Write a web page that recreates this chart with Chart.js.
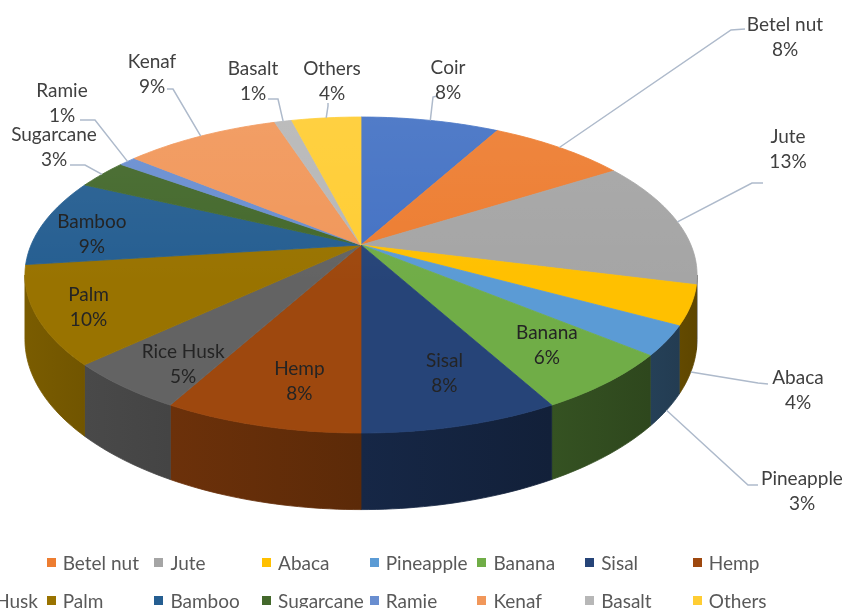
<!DOCTYPE html>
<html>
<head>
<meta charset="utf-8">
<title>Natural fibre share</title>
<script src="https://cdn.jsdelivr.net/npm/chart.js@4.4.1/dist/chart.umd.min.js"></script>
<style>
  html, body { margin: 0; padding: 0; background: #fff; overflow: hidden; }
  #wrap { position: relative; width: 845px; height: 608px; overflow: hidden; }
  #fibreChart { position: absolute; left: 0; top: 0; }
  #legend { position: absolute; left: -61px; top: 543px; font-family: Lato, "Open Sans", sans-serif; font-size: 19px; color: #595959; }
  #legend .row { display: flex; height: 38px; align-items: center; white-space: nowrap; }
  #legend .item { width: 107.7px; flex: none; display: flex; align-items: center; }
  #legend .box { width: 9px; height: 9px; margin-right: 7px; flex: none; }
</style>
</head>
<body>
<div id="wrap">
  <canvas id="fibreChart" width="845" height="608"></canvas>
  <div id="legend"></div>
</div>
<script>
(() => {
    // fibre types, clockwise from 12 o'clock
    const fibres = ['Coir', 'Betel nut', 'Jute', 'Abaca', 'Pineapple', 'Banana', 'Sisal', 'Hemp',
                    'Rice Husk', 'Palm', 'Bamboo', 'Sugarcane', 'Ramie', 'Kenaf', 'Basalt', 'Others'];
    // share in percent
    const shares = [8, 8, 13, 4, 3, 6, 8, 8, 5, 10, 9, 3, 1, 9, 1, 4];

    const sliceColors = ['#4472C4', '#ED7D31', '#A5A5A5', '#FFC000', '#5B9BD5', '#70AD47', '#264478', '#9E480E',
                         '#636363', '#997300', '#255E91', '#43682B', '#698ED0', '#F1975A', '#B7B7B7', '#FFCD33'];

    // 3D look: squash of the disc, perspective strength, wall height (all relative to the chart radius)
    const SQUASH_X = 1.404;
    const SQUASH_Y = 0.648;
    const PERSP = 0.19;
    const WALL = 0.264;

    // where each data label goes: r = inside the slice, at = text centre outside with a leader line
    const labelLayout = [
        { at: [448, 80], lead: [[437, 96], [433, 97]] },               // Coir
        { at: [785, 37], lead: [[745, 29], [731, 30]] },               // Betel nut
        { at: [788, 149], lead: [[763, 183], [752, 183]] },            // Jute
        { at: [798, 390], lead: [[768, 384], [758, 383]], wall: true },// Abaca
        { at: [802, 491], lead: [[758, 485], [748, 485]], wall: true },// Pineapple
        { r: 0.76, nudge: [6, 0] },                                    // Banana
        { r: 0.75, nudge: [12, 0] },                                   // Sisal
        { r: 0.77, nudge: [12, 4] },                                   // Hemp
        { r: 0.8, nudge: [6, 10] },                                    // Rice Husk
        { r: 0.85, nudge: [0, 3] },                                    // Palm
        { r: 0.85, nudge: [1, 9] },                                    // Bamboo
        { at: [54, 147], lead: [[70, 165], [85, 165]] },               // Sugarcane
        { at: [62, 103], lead: [[80, 120], [95, 120]] },               // Ramie
        { at: [152, 74], lead: [[167, 89], [173, 89]] },               // Kenaf
        { at: [253, 81], lead: [[268, 99], [278, 99]] },               // Basalt
        { at: [332, 81], lead: [[328, 103], [328, 106]] }              // Others
    ];

    function project(arc, a, r, drop) {
        const u = Math.cos(a) * r;
        const w = Math.sin(a) * r;
        const s = 1 / (1 - PERSP * w);
        const R = arc.outerRadius;
        return {
            x: arc.x + R * SQUASH_X * u * s,
            y: arc.y + R * SQUASH_Y * w * s + (drop ? R * WALL * s : 0)
        };
    }

    function rim(arc, from, to, drop) {
        const steps = Math.max(2, Math.ceil((to - from) / 0.02));
        const pts = [];
        for (let k = 0; k <= steps; k++) {
            pts.push(project(arc, from + (to - from) * k / steps, 1, drop));
        }
        return pts;
    }

    function shade(hex, f) {
        const n = parseInt(hex.slice(1), 16);
        const c = [(n >> 16) & 255, (n >> 8) & 255, n & 255].map(v => Math.round(v * f));
        return `rgb(${c[0]},${c[1]},${c[2]})`;
    }

    // walls lit from the left
    const wallLight = a => 0.58 - 0.22 * Math.cos(a);

    function tracePath(ctx, pts) {
        ctx.beginPath();
        pts.forEach((p, k) => k ? ctx.lineTo(p.x, p.y) : ctx.moveTo(p.x, p.y));
        ctx.closePath();
    }

    const pie3d = {
        id: 'pie3d',
        beforeDatasetsDraw(chart) {
            const ctx = chart.ctx;
            const arcs = chart.getDatasetMeta(0).data;
            const colors = chart.data.datasets[0].backgroundColor;
            const aMin = Math.asin(PERSP);
            const aMax = Math.PI - aMin;
            ctx.save();
            ctx.lineJoin = 'round';

            // front walls
            arcs.forEach((arc, i) => {
                const lo = Math.max(arc.startAngle, aMin);
                const hi = Math.min(arc.endAngle, aMax);
                if (lo >= hi) return;
                const top = rim(arc, lo, hi, false);
                const bottom = rim(arc, lo, hi, true).reverse();
                const x0 = top[0].x, x1 = top[top.length - 1].x;
                let paint = shade(colors[i], wallLight((lo + hi) / 2));
                if (Math.abs(x1 - x0) > 1) {
                    paint = ctx.createLinearGradient(x0, 0, x1, 0);
                    paint.addColorStop(0, shade(colors[i], wallLight(lo)));
                    paint.addColorStop(1, shade(colors[i], wallLight(hi)));
                }
                tracePath(ctx, top.concat(bottom));
                ctx.fillStyle = paint;
                ctx.strokeStyle = paint;
                ctx.lineWidth = 0.8;
                ctx.fill();
                ctx.stroke();
            });

            // top faces
            arcs.forEach((arc, i) => {
                const pts = [{ x: arc.x, y: arc.y }].concat(rim(arc, arc.startAngle, arc.endAngle, false));
                tracePath(ctx, pts);
                ctx.fillStyle = colors[i];
                ctx.strokeStyle = colors[i];
                ctx.lineWidth = 0.8;
                ctx.fill();
                ctx.stroke();
            });

            // soft light on the far part of the top
            if (arcs.length) {
                const arc = arcs[0];
                const full = [{ x: arc.x, y: arc.y }].concat(rim(arc, -Math.PI / 2, Math.PI * 1.5, false));
                const topY = project(arc, -Math.PI / 2, 1, false).y;
                const glow = ctx.createLinearGradient(0, topY, 0, arc.y + 40);
                glow.addColorStop(0, 'rgba(255,255,255,0.07)');
                glow.addColorStop(1, 'rgba(255,255,255,0)');
                tracePath(ctx, full);
                ctx.fillStyle = glow;
                ctx.fill();
            }
            ctx.restore();
            return false;
        },
        afterDraw(chart) {
            const ctx = chart.ctx;
            const arcs = chart.getDatasetMeta(0).data;
            const values = chart.data.datasets[0].data;
            ctx.save();
            ctx.font = '19px Lato, "Open Sans", sans-serif';
            ctx.textAlign = 'center';
            ctx.textBaseline = 'middle';

            arcs.forEach((arc, i) => {
                const spot = labelLayout[i];
                const mid = (arc.startAngle + arc.endAngle) / 2;
                let cx, cy;
                if (spot.r) {
                    const p = project(arc, mid, spot.r, false);
                    cx = p.x + spot.nudge[0];
                    cy = p.y + spot.nudge[1];
                    ctx.fillStyle = '#242424';
                } else {
                    [cx, cy] = spot.at;
                    const end = project(arc, mid, 1, !!spot.wall);
                    ctx.beginPath();
                    ctx.moveTo(spot.lead[0][0], spot.lead[0][1]);
                    ctx.lineTo(spot.lead[1][0], spot.lead[1][1]);
                    ctx.lineTo(end.x, end.y);
                    ctx.strokeStyle = '#aebacb';
                    ctx.lineWidth = 1.5;
                    ctx.stroke();
                    ctx.fillStyle = '#404040';
                }
                ctx.fillText(chart.data.labels[i], cx, cy - 12.5);
                ctx.fillText(values[i] + '%', cx, cy + 12.5);
            });
            ctx.restore();
        }
    };

    const chart = new Chart(document.getElementById('fibreChart'), {
        type: 'pie',
        data: {
            labels: fibres,
            datasets: [{
                data: shares,
                backgroundColor: sliceColors,
                borderWidth: 0
            }]
        },
        options: {
            responsive: false,
            animation: false,
            events: [],
            layout: { padding: { left: 20, right: 143, top: 10, bottom: 128 } },
            plugins: {
                legend: { display: false },
                tooltip: { enabled: false }
            }
        },
        plugins: [pie3d]
    });

    // legend, 8 entries per row
    const legend = document.getElementById('legend');
    for (let row = 0; row < 2; row++) {
        const rowEl = document.createElement('div');
        rowEl.className = 'row';
        chart.data.labels.slice(row * 8, row * 8 + 8).forEach((name, k) => {
            const item = document.createElement('div');
            item.className = 'item';
            const box = document.createElement('span');
            box.className = 'box';
            box.style.background = sliceColors[row * 8 + k];
            item.appendChild(box);
            item.appendChild(document.createTextNode(name));
            rowEl.appendChild(item);
        });
        legend.appendChild(rowEl);
    }
})();
</script>
</body>
</html>
